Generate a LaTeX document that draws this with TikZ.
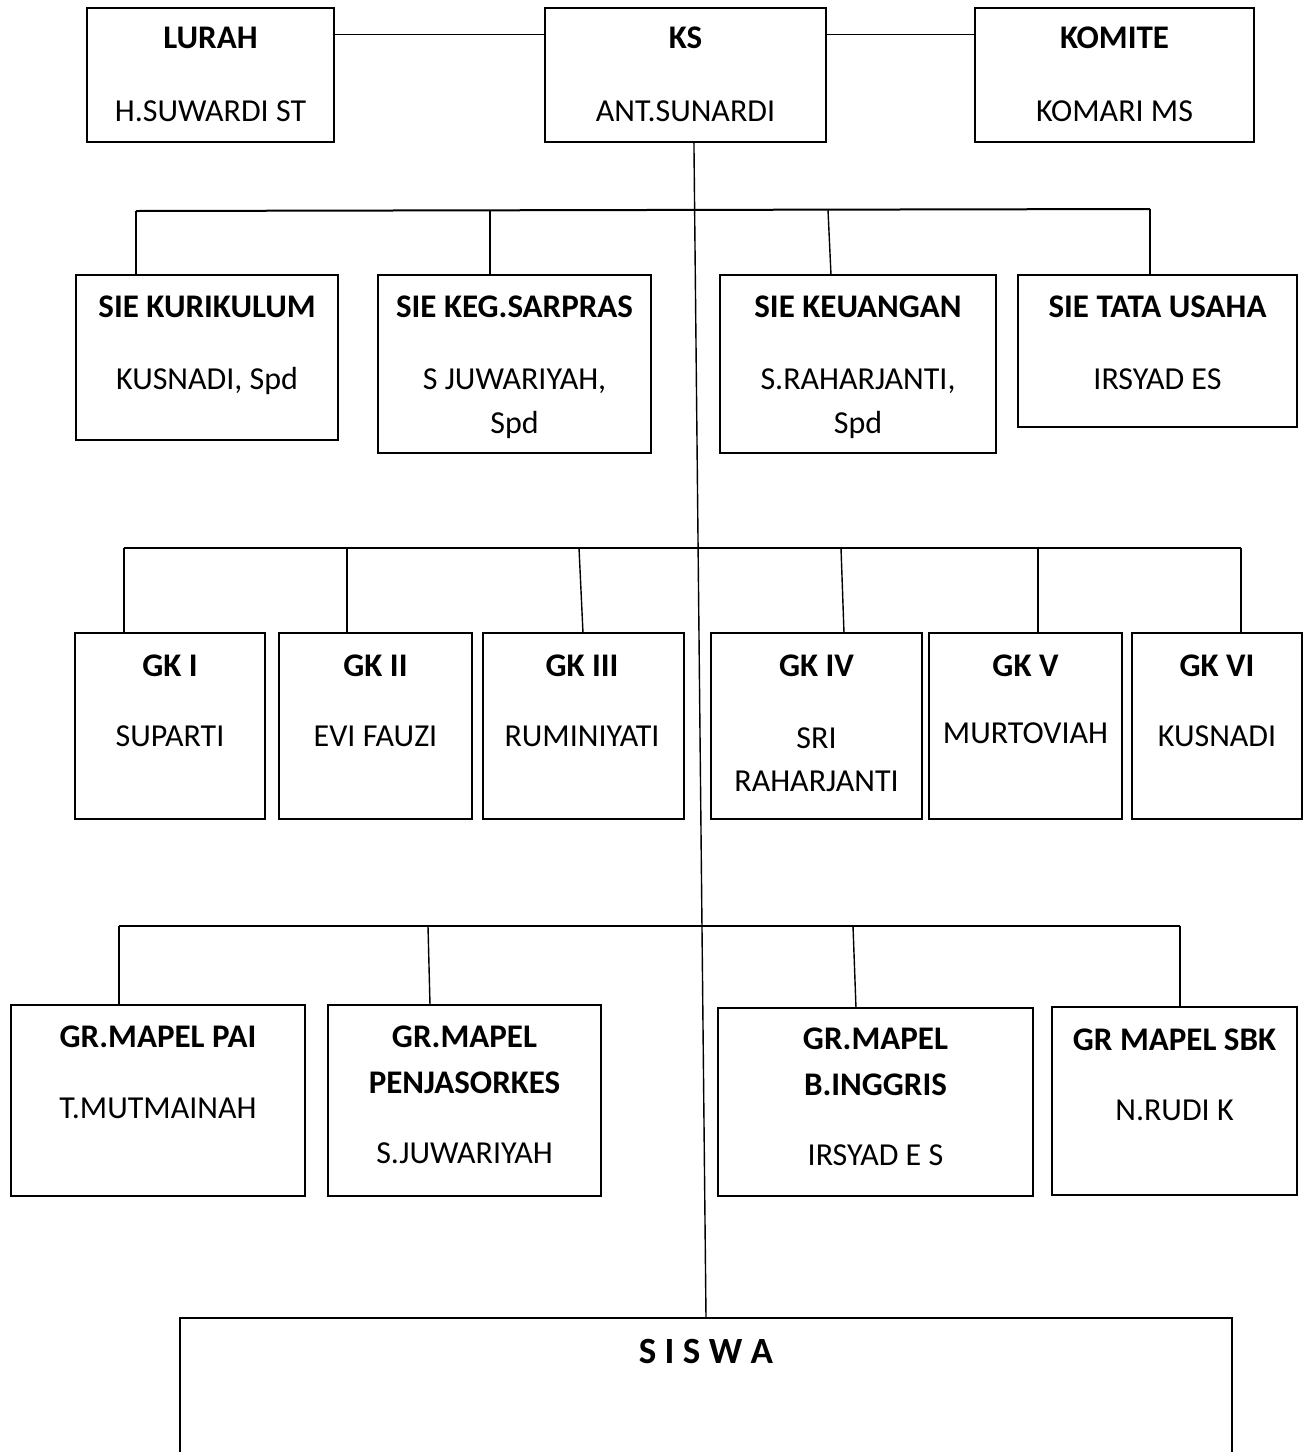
\documentclass[tikz,border=0pt]{standalone}
\usepackage{fontspec}
\setmainfont{Carlito}
\usetikzlibrary{fit,calc}
\begin{document}
\begin{tikzpicture}[x=1pt,y=-1pt,
  box/.style={draw, line width=1.8pt, inner sep=0pt, outer sep=0pt},
  frame/.style={inner sep=0pt, outer sep=0pt},
  link/.style={line width=1.4pt},
  bus/.style={line width=2pt},
  ttl/.style={font=\fontsize{33}{39}\selectfont\bfseries, anchor=base, inner sep=0pt},
  nm/.style={font=\fontsize{32}{38}\selectfont, anchor=base, inner sep=0pt},
  big/.style={font=\fontsize{37}{43}\selectfont\bfseries, anchor=base, inner sep=0pt},
]
\useasboundingbox[fill=white] (0,0) rectangle (1309,1452);

% ---------- top row ----------
\node[box, fit={(87,8)(334,142)}] (lurah) {};
\node[ttl] (lurahT) at (210.5,48) {LURAH};
\node[nm]  (lurahN) at (210.5,121) {H.SUWARDI ST};

\node[box, fit={(545,8)(826,142)}] (ks) {};
\node[ttl] (ksT) at (685.5,48) {KS};
\node[nm]  (ksN) at (685.5,121) {ANT.SUNARDI};

\node[box, fit={(975,8)(1254,142)}] (komite) {};
\node[ttl] (komiteT) at (1114.5,48) {KOMITE};
\node[nm]  (komiteN) at (1114.5,121) {KOMARI MS};

\draw[link] ($(lurah.north east)+(0,26.5)$) -- ($(ks.north west)+(0,26.5)$);
\draw[link] ($(ks.north east)+(0,26.5)$) -- ($(komite.north west)+(0,26.5)$);

% ---------- SIE row ----------
\node[box, fit={(76,275)(338,440)}] (kur) {};
\node[ttl] (kurT) at (207,317) {SIE KURIKULUM};
\node[nm]  (kurN) at (207,389) {KUSNADI, Spd};

\node[box, fit={(378,275)(651,453)}] (sar) {};
\node[ttl] (sarT) at (514.5,317) {SIE KEG.SARPRAS};
\node[nm]  (sarN) at (514.5,389) {S JUWARIYAH,};
\node[nm]  (sarN2) at (514.5,433) {Spd};

\node[box, fit={(720,275)(996,453)}] (keu) {};
\node[ttl] (keuT) at (858,317) {SIE KEUANGAN};
\node[nm]  (keuN) at (858,389) {S.RAHARJANTI,};
\node[nm]  (keuN2) at (858,433) {Spd};

\node[box, fit={(1018,275)(1297,427)}] (tata) {};
\node[ttl] (tataT) at (1157.5,317) {SIE TATA USAHA};
\node[nm]  (tataN) at (1157.5,389) {IRSYAD ES};

\coordinate (sd1) at (136,211);
\coordinate (sd2) at (490,210);
\coordinate (sd3) at (828,210);
\coordinate (sd3b) at (831,275);
\coordinate (sd4) at (1150,209);
\draw[bus] (sd1) -- (sd4);
\draw[link] (sd1) -- (sd1 |- kur.north);
\draw[link] (sd2) -- (sd2 |- sar.north);
\draw[link] (sd3) -- (sd3b);
\draw[link] (sd4) -- (sd4 |- tata.north);

% ---------- GK row ----------
\node[box, fit={(75,633)(265,819)}] (g1) {};
\node[ttl] (g1T) at (170,676) {GK I};
\node[nm]  (g1N) at (170,746) {SUPARTI};

\node[box, fit={(279,633)(472,819)}] (g2) {};
\node[ttl] (g2T) at (375.5,676) {GK II};
\node[nm]  (g2N) at (375.5,746) {EVI FAUZI};

\node[box, fit={(483,633)(684,819)}] (g3) {};
\node[ttl] (g3T) at (582,676) {GK III};
\node[nm]  (g3N) at (582,746) {RUMINIYATI};

\node[box, fit={(711,633)(922,819)}] (g4) {};
\node[ttl] (g4T) at (816.5,676) {GK IV};
\node[nm]  (g4N) at (816.5,748) {SRI};
\node[nm]  (g4N2) at (816.5,791) {RAHARJANTI};

\node[box, fit={(929,633)(1122,819)}] (g5) {};
\node[ttl] (g5T) at (1025.5,676) {GK V};
\node[nm]  (g5N) at (1025.5,743) {MURTOVIAH};

\node[box, fit={(1132,633)(1302,819)}] (g6) {};
\node[ttl] (g6T) at (1217,676) {GK VI};
\node[nm]  (g6N) at (1217,746) {KUSNADI};

\coordinate (gd1) at (124,548);
\coordinate (gd2) at (347,548);
\coordinate (gd3) at (579,548);
\coordinate (gd3b) at (583,633);
\coordinate (gd4) at (841,548);
\coordinate (gd4b) at (844,633);
\coordinate (gd5) at (1038,548);
\coordinate (gd6) at (1241,548);
\draw[bus] (gd1) -- (gd6);
\draw[link] (gd1) -- (gd1 |- g1.north);
\draw[link] (gd2) -- (gd2 |- g2.north);
\draw[link] (gd3) -- (gd3b);
\draw[link] (gd4) -- (gd4b);
\draw[link] (gd5) -- (gd5 |- g5.north);
\draw[link] (gd6) -- (gd6 |- g6.north);

% ---------- GR row ----------
\node[box, fit={(11,1005)(305,1196)}] (pai) {};
\node[ttl] (paiT) at (158,1047) {GR.MAPEL PAI};
\node[nm]  (paiN) at (158,1118) {T.MUTMAINAH};

\node[box, fit={(328,1005)(601,1196)}] (pen) {};
\node[ttl] (penT) at (464.5,1047) {GR.MAPEL};
\node[ttl] (penT2) at (464.5,1093) {PENJASORKES};
\node[nm]  (penN) at (464.5,1163) {S.JUWARIYAH};

\node[box, fit={(718,1008)(1033,1196)}] (ing) {};
\node[ttl] (ingT) at (875.5,1049) {GR.MAPEL};
\node[ttl] (ingT2) at (875.5,1095) {B.INGGRIS};
\node[nm]  (ingN) at (875.5,1165) {IRSYAD E S};

\node[box, fit={(1052,1007)(1297,1195)}] (sbk) {};
\node[ttl] (sbkT) at (1174.5,1050) {GR MAPEL SBK};
\node[nm]  (sbkN) at (1174.5,1120) {N.RUDI K};

\coordinate (rd1) at (119,926);
\coordinate (rd2) at (428,926);
\coordinate (rd2b) at (430,1005);
\coordinate (rd3) at (853,926);
\coordinate (rd3b) at (856,1008);
\coordinate (rd4) at (1180,926);
\draw[bus] (rd1) -- (rd4);
\draw[link] (rd1) -- (rd1 |- pai.north);
\draw[link] (rd2) -- (rd2b);
\draw[link] (rd3) -- (rd3b);
\draw[link] (rd4) -- (rd4 |- sbk.north);

% ---------- SISWA ----------
\node[frame, fit={(180,1318)(1232,1470)}] (siswa) {};
\draw[line width=1.8pt] (siswa.south west) |- (siswa.north east) -- (siswa.south east);
\node[big] (siswaT) at (706,1363) {S I S W A};

% ---------- main vertical line ----------
\draw[link] ($(ks.south west)!0.53!(ks.south east)$) -- (siswa.north);
\end{tikzpicture}
\end{document}
